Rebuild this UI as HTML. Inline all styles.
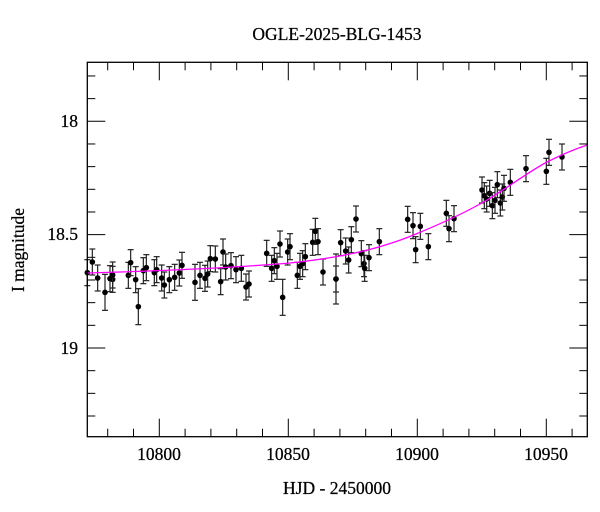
<!DOCTYPE html>
<html><head><meta charset="utf-8"><style>
html,body{margin:0;padding:0;background:#fff;}
svg{display:block;font-family:"Liberation Serif",serif;}
svg text{stroke:#000;stroke-width:0.25;}
</style></head><body>
<svg id="s" width="600" height="512" viewBox="0 0 600 512" xmlns="http://www.w3.org/2000/svg">
<rect x="0" y="0" width="600" height="512" fill="#fff"/>
<text x="337" y="40" font-size="17.5" text-anchor="middle">OGLE-2025-BLG-1453</text>
<text x="337" y="494" font-size="17.5" text-anchor="middle">HJD - 2450000</text>
<text transform="translate(24,250) rotate(-90)" font-size="17.5" text-anchor="middle">I magnitude</text>
<g font-size="17.5" text-anchor="middle">
<text x="159" y="460">10800</text><text x="288" y="460">10850</text>
<text x="417" y="460">10900</text><text x="546" y="460">10950</text>
</g>
<g font-size="17.5" text-anchor="end">
<text x="78" y="127">18</text><text x="78" y="240">18.5</text><text x="78" y="354">19</text>
</g>
<g id="ticks" stroke="#000" stroke-width="1"></g>
<g id="data"></g>
<path id="curve" fill="none" stroke="#f0f" stroke-width="1.3"/>
<rect x="87.3" y="62.3" width="500" height="374.4" fill="none" stroke="#000" stroke-width="1.3"/>
</svg>
<script>
var NS="http://www.w3.org/2000/svg";
function el(p,t,a){var e=document.createElementNS(NS,t);for(var k in a)e.setAttribute(k,a[k]);p.appendChild(e);return e;}
var tk=document.getElementById("ticks");
var L=87.3,R=587.3,T=62.3,B=436.7;
for(var d=10780;d<=10960;d+=10){var x=159.3+(d-10800)*2.58;var big=d%50==0;var len=big?18:8;
el(tk,"line",{x1:x,y1:T,x2:x,y2:T+len});el(tk,"line",{x1:x,y1:B,x2:x,y2:B-len});}
for(var m=17.8;m<=19.35;m+=0.1){var y=121.3+(m-18)*226.7;var big=Math.abs(Math.round(m*2)-m*2)<0.01;var len=big?18:8;
el(tk,"line",{x1:L,y1:y,x2:L+len,y2:y});el(tk,"line",{x1:R,y1:y,x2:R-len,y2:y});}
var z1=[[82,668],[97,636],[113,684],[135,727],[150,686],[158,688],[158,675],[205,676],[212,638],[227,689],[235,770],[250,662],[259,653],[283,668],[290,659],[305,684],[313,705],[328,689],[344,682],[358,669],[366,646],[405,697],[420,676],[435,685],[443,672],[451,626],[466,627],[482,695],[489,606],[497,651],[513,647],[528,659],[544,655],[558,711],[567,702],[620,610],[635,655],[643,632],[651,649],[660,582],[668,742],[683,606],[690,590],[712,676],[720,649],[728,641],[736,620],[758,577],[766,544],[774,575],[789,666],[828,687]];
var z2=[[18,687],[32,578],[47,603],[56,630],[64,569],[78,507],[94,611],[102,641],[104,655],[117,623],[148,575],[233,508],[249,527],[257,599],[271,529],[295,590],[349,490],[357,536],[372,506],[456,420],[463,437],[470,447],[479,430],[487,467],[495,451],[502,404],[511,459],[517,441],[522,415],[541,397],[588,356],[649,364],[657,307],[696,321]];
var big={"235":1,"668":1,"135":1,"405":1};
var pts=[];z1.forEach(function(p){pts.push([60+p[0]/3,50+p[1]/3,big[p[0]]?18:13]);});
z2.forEach(function(p){pts.push([330+p[0]/3,50+p[1]/3,p[0]==18?25:13]);});
var g=document.getElementById("data");
pts.forEach(function(p){var x=p[0],y=p[1],e=p[2];
el(g,"line",{x1:x,y1:y-e,x2:x,y2:y+e,stroke:"#222","stroke-width":1.2});
el(g,"line",{x1:x-3,y1:y-e,x2:x+3,y2:y-e,stroke:"#222","stroke-width":1.2});
el(g,"line",{x1:x-3,y1:y+e,x2:x+3,y2:y+e,stroke:"#222","stroke-width":1.2});
el(g,"circle",{cx:x,cy:y,r:2.8,fill:"#000"});});
document.getElementById("curve").setAttribute("d","M87.3,273 C160,271 230,268 290,263 C350,257 390,245 416,234 C450,220 470,210 487,200 C510,186 530,171 547,162 C565,153 575,149 587.3,145");
</script>
</body></html>
